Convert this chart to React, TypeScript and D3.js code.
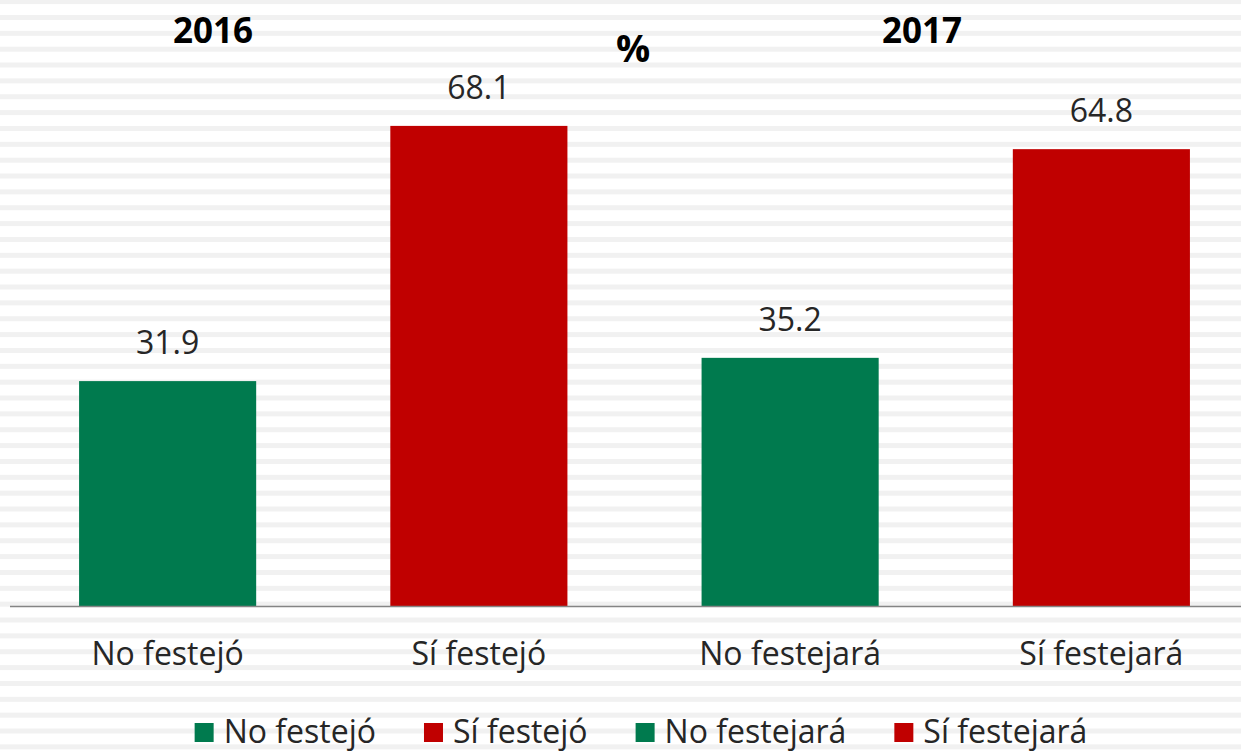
import { select, scaleBand, scaleLinear, range } from "d3";
import { useRef, useEffect } from "react";

const categories = ["No festejó", "Sí festejó", "No festejará", "Sí festejará"];
const values = [31.9, 68.1, 35.2, 64.8];
const colors = ["#007A4E", "#C00000", "#007A4E", "#C00000"];
const yearTitles = ["2016", "2017"];
const unitTitle = "%";

const W = 1241;
const H = 751;
const FONT = "'Open Sans', sans-serif";

const App = () => {
  const svgRef = useRef<SVGSVGElement>(null);

  useEffect(() => {
    const svg = select(svgRef.current);
    svg.selectAll("*").remove();

    // striped background
    svg
      .append("rect")
      .attr("width", W)
      .attr("height", H)
      .attr("fill", "#ffffff");
    svg
      .selectAll(".stripe")
      .data(range(0, 48))
      .join("rect")
      .attr("class", "stripe")
      .attr("x", 0)
      .attr("y", (k) => -0.9 + 15.857 * k)
      .attr("width", W)
      .attr("height", 5)
      .attr("fill", "#f1f1f1");

    const xScale = scaleBand()
      .domain(categories)
      .range([12, 1257])
      .paddingInner(0.431)
      .paddingOuter(0.2155);

    const yScale = scaleLinear().domain([0, 80]).range([606, 606 - 80 * 7.05]);

    svg
      .selectAll(".bar")
      .data(values)
      .join("rect")
      .attr("class", "bar")
      .attr("x", (v, i) => xScale(categories[i]))
      .attr("width", xScale.bandwidth())
      .attr("y", (v) => yScale(v))
      .attr("height", (v) => yScale(0) - yScale(v))
      .attr("fill", (v, i) => colors[i]);

    // baseline
    svg
      .append("line")
      .attr("x1", 10)
      .attr("x2", W)
      .attr("y1", yScale(0) + 0.5)
      .attr("y2", yScale(0) + 0.5)
      .attr("stroke", "#858585")
      .attr("stroke-width", 1.5);

    // value labels
    svg
      .selectAll(".val")
      .data(values)
      .join("text")
      .attr("class", "val")
      .attr("x", (v, i) => xScale(categories[i]) + xScale.bandwidth() / 2)
      .attr("y", (v) => yScale(v) - 27)
      .attr("text-anchor", "middle")
      .style("font-family", FONT)
      .style("font-size", "32px")
      .attr("fill", "#262626")
      .text((v) => v.toFixed(1));

    // category labels
    svg
      .selectAll(".cat")
      .data(categories)
      .join("text")
      .attr("class", "cat")
      .attr("x", (c) => xScale(c) + xScale.bandwidth() / 2)
      .attr("y", 665)
      .attr("text-anchor", "middle")
      .style("font-family", FONT)
      .style("font-size", "32px")
      .attr("fill", "#262626")
      .text((c) => c);

    // titles
    svg
      .selectAll(".year")
      .data(yearTitles)
      .join("text")
      .attr("class", "year")
      .attr("x", (d, i) => (i === 0 ? 213 : 922))
      .attr("y", 43)
      .attr("text-anchor", "middle")
      .style("font-family", FONT)
      .style("font-size", "35px")
      .style("font-weight", "bold")
      .attr("fill", "#000")
      .text((d) => d);

    svg
      .append("text")
      .attr("x", 633)
      .attr("y", 62)
      .attr("text-anchor", "middle")
      .style("font-family", FONT)
      .style("font-size", "38px")
      .style("font-weight", "bold")
      .attr("fill", "#000")
      .text(unitTitle);

    // legend
    const legend = svg.append("g");
    const items = legend
      .selectAll(".leg")
      .data(categories)
      .join("g")
      .attr("class", "leg");
    items
      .append("rect")
      .attr("width", 19)
      .attr("height", 19)
      .attr("y", 723)
      .attr("fill", (c, i) => colors[i]);
    items
      .append("text")
      .attr("x", 29)
      .attr("y", 743)
      .style("font-family", FONT)
      .style("font-size", "32px")
      .attr("fill", "#262626")
      .text((c) => c);

    let x = 0;
    const offsets: number[] = [];
    items.each(function () {
      offsets.push(x);
      const t = select(this).select("text").node() as SVGTextElement;
      x += 29 + t.getComputedTextLength() + 48;
    });
    const total = x - 48;
    const start = 641 - total / 2;
    items.attr("transform", (c, i) => `translate(${start + offsets[i]},0)`);
  }, []);

  return (
    <svg
      ref={svgRef}
      width={W}
      height={H}
      style={{ position: "absolute", left: 0, top: 0 }}
    />
  );
};

export default App;
